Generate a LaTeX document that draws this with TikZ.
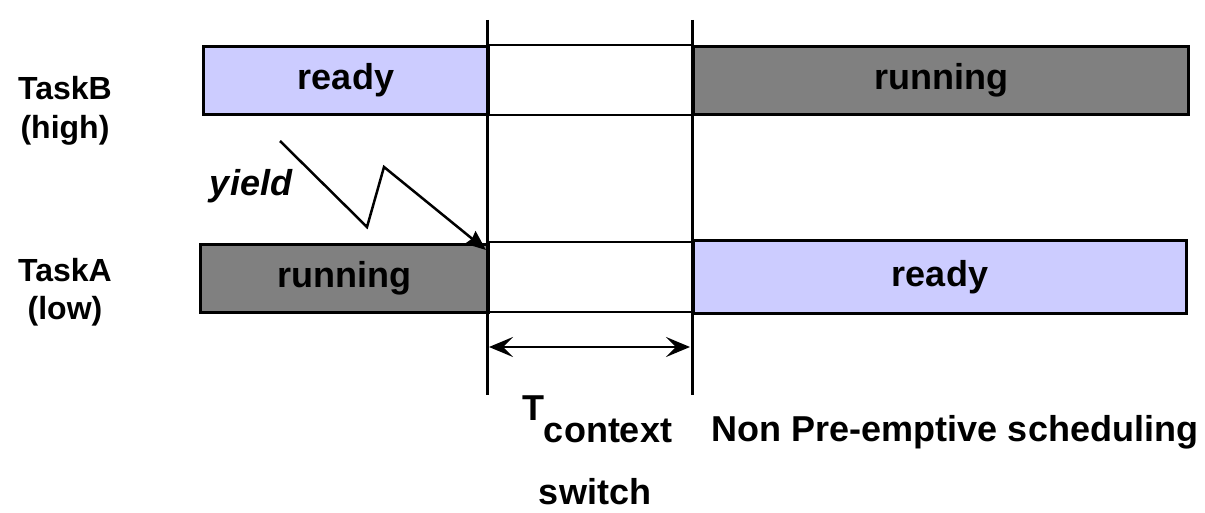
\documentclass[tikz,border=0pt]{standalone}
\usepackage{fontspec}
\setmainfont{Liberation Sans}
\usetikzlibrary{arrows.meta}
\definecolor{lav}{HTML}{CCCCFF}
\definecolor{dgray}{HTML}{808080}
\tikzset{
  bar/.style={draw=black, line width=3pt, anchor=north west, inner sep=0pt, minimum height=68pt, font=\fontsize{36}{40}\selectfont\bfseries},
  gap/.style={draw=black, line width=2pt, anchor=north west, inner sep=0pt, minimum height=70pt, fill=white},
  lbl/.style={font=\fontsize{32}{36}\selectfont\bfseries, inner sep=0pt, align=center},
  big/.style={font=\fontsize{36}{40}\selectfont\bfseries, inner sep=0pt},
  vline/.style={line width=3pt},
  dtip/.style={Stealth[length=24pt,width=20pt,inset=10pt]},
}
\begin{document}
\begin{tikzpicture}[x=1pt,y=-1pt]
\useasboundingbox (0,0) rectangle (1205,513);
% TaskB row
\node[gap, minimum width=205pt] (bgap) at (487,44) {};
\node[bar, fill=lav, minimum width=285pt] (bready) at (202,45) {ready};
\node[bar, fill=dgray, minimum width=495pt] (brun) at (692,45) {running};
% TaskA row
\node[gap, minimum width=205pt] (agap) at (487,241) {};
\node[bar, fill=dgray, minimum width=288pt] (arun) at (199,243) {running};
\node[bar, fill=lav, minimum width=493pt, minimum height=73pt] (aready) at (692,239) {ready};
% vertical lines
\coordinate (v1t) at (487,20); \coordinate (v1b) at (487,395);
\coordinate (v2t) at (692,20); \coordinate (v2b) at (692,395);
\draw[vline] (v1t) -- (v1b);
\draw[vline] (v2t) -- (v2b);
% double arrow
\coordinate (d1) at (489,347); \coordinate (d2) at (690,347);
\draw[line width=2.5pt, {Stealth[length=24pt,width=20pt,inset=10pt]}-{Stealth[length=24pt,width=20pt,inset=10pt]}] (d1) -- (d2);
% side labels
\node[lbl] (tb) at (65,88) {TaskB};
\node[lbl] (tbh) at (65,130) {(high)};
\node[lbl] (ta) at (65,270) {TaskA};
\node[lbl] (tal) at (65,311) {(low)};
% yield
\node[big, font=\fontsize{36}{40}\selectfont\bfseries\itshape] (yield) at (251,186) {yield};
\coordinate (y0) at (280,141);
\coordinate (y1) at (367,227);
\coordinate (y2) at (384,167);
\coordinate (y3) at (486,250);
\draw[line width=2.5pt, -{Stealth[length=20pt,width=16pt,inset=2pt]}] (y0) -- (y1) -- (y2) -- (y3);
% T context switch
\node[big] (T) at (533,408) {T};
\node[big] (ctx) at (608,431) {context};
\node[big] (sw) at (595,492) {switch};
\node[big] (nps) at (955,432) {Non Pre-emptive scheduling};
\end{tikzpicture}
\end{document}
